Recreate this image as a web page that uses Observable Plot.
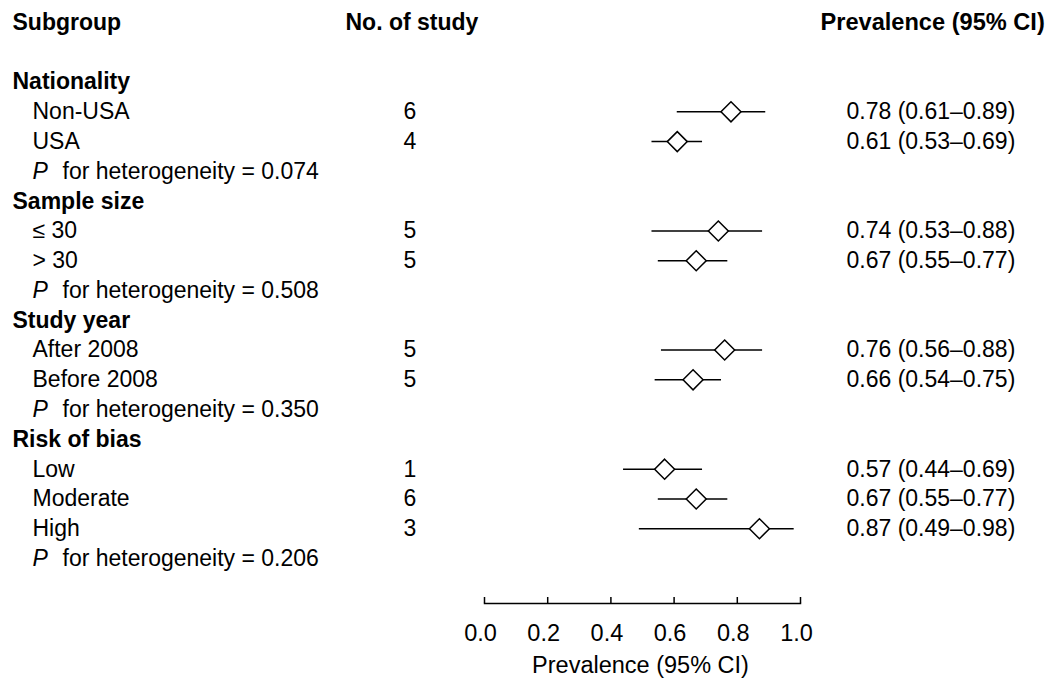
<!DOCTYPE html>
<html>
<head>
<meta charset="utf-8">
<script src="https://cdn.jsdelivr.net/npm/d3@7"></script>
<script src="https://cdn.jsdelivr.net/npm/@observablehq/plot@0.6"></script>
<style>
  html, body { margin: 0; padding: 0; background: #fff; }
  svg { display: block; }
</style>
</head>
<body>
<div id="chart"></div>
<script>
// ---- data ----
const subgroups = ["Nationality", "Sample size", "Study year", "Risk of bias"];
const items = ["Non-USA", "USA", "≤ 30", "> 30", "After 2008", "Before 2008", "Low", "Moderate", "High"];
const itemGroup = [0, 0, 1, 1, 2, 2, 3, 3, 3];
const nStudies = [6, 4, 5, 5, 5, 5, 1, 6, 3];
const estimate = [0.78, 0.61, 0.74, 0.67, 0.76, 0.66, 0.57, 0.67, 0.87];
const lower = [0.61, 0.53, 0.53, 0.55, 0.56, 0.54, 0.44, 0.55, 0.49];
const upper = [0.89, 0.69, 0.88, 0.77, 0.88, 0.75, 0.69, 0.77, 0.98];
const pHeterogeneity = ["0.074", "0.508", "0.350", "0.206"];
const xTicks = [0, 0.2, 0.4, 0.6, 0.8, 1.0];
const headers = ["Subgroup", "No. of study", "Prevalence (95% CI)"];

// ---- layout rows (row index = line number of the table) ----
const headingRows = [], itemRows = [], pRows = [];
let r = 2;
subgroups.forEach((g, gi) => {
  headingRows.push({row: r++, label: g});
  items.forEach((it, i) => {
    if (itemGroup[i] !== gi) return;
    itemRows.push({
      row: r++, label: it, n: nStudies[i], est: estimate[i], lo: lower[i], hi: upper[i],
      ci: `${estimate[i].toFixed(2)} (${lower[i].toFixed(2)}–${upper[i].toFixed(2)})`
    });
  });
  pRows.push({row: r++, p: pHeterogeneity[gi]});
});
const headerRow = [{row: 0}];

const FS = 23;
const font = "'Liberation Sans', Arial, Helvetica, sans-serif";
const L = 484; // plot left edge
const txt = (data, opts) => Plot.text(data, {
  frameAnchor: "left", textAnchor: "start", lineAnchor: "middle",
  fontSize: FS, fill: "black", ...opts
});

const chart = Plot.plot({
  width: 1048,
  height: 679,
  marginLeft: L,
  marginRight: 248,
  marginTop: 0,
  marginBottom: 76,
  style: {fontFamily: font, overflow: "visible", background: "white"},
  x: {domain: [0, 1], axis: null},
  y: {domain: [0, 18], range: [22, 558], axis: null},
  marks: [
    // axis
    Plot.frame({anchor: "bottom", stroke: "black", strokeWidth: 1.5}),
    Plot.ruleX(xTicks, {x: d => d, insetTop: 597, stroke: "black", strokeWidth: 1.5}),
    Plot.text(xTicks, {x: d => d, frameAnchor: "bottom", dy: 30, dx: -4, lineAnchor: "middle",
      text: d => d.toFixed(1), fontSize: 23.5, fill: "black"}),
    Plot.text([headers[2]], {frameAnchor: "bottom", dy: 62, lineAnchor: "middle",
      text: d => d, fontSize: 23.5, fill: "black", dx: -2}),
    // CIs and diamonds
    Plot.ruleY(itemRows, {y: "row", x1: "lo", x2: "hi", stroke: "black", strokeWidth: 1.5}),
    Plot.dot(itemRows, {x: "est", y: "row", symbol: "diamond2", r: 9,
      fill: "white", stroke: "black", strokeWidth: 1.5}),
    // headers
    txt(headerRow, {y: "row", text: () => headers[0], fontWeight: "bold", dx: 12 - L}),
    txt(headerRow, {y: "row", text: () => headers[1], fontWeight: "bold", dx: 345 - L}),
    txt(headerRow, {y: "row", text: () => headers[2], fontWeight: "bold", dx: 820 - L, fontSize: 23.6}),
    // subgroup headings
    txt(headingRows, {y: "row", text: "label", fontWeight: "bold", dx: 12 - L}),
    // items
    txt(itemRows, {y: "row", text: "label", dx: 32 - L}),
    txt(itemRows, {y: "row", text: d => String(d.n), dx: 403 - L}),
    txt(itemRows, {y: "row", text: "ci", dx: 846 - L}),
    // heterogeneity
    txt(pRows, {y: "row", text: () => "P", fontStyle: "italic", dx: 32 - L}),
    txt(pRows, {y: "row", text: d => `for heterogeneity = ${d.p}`, dx: 62 - L})
  ]
});
document.getElementById("chart").appendChild(chart);
</script>
</body>
</html>
